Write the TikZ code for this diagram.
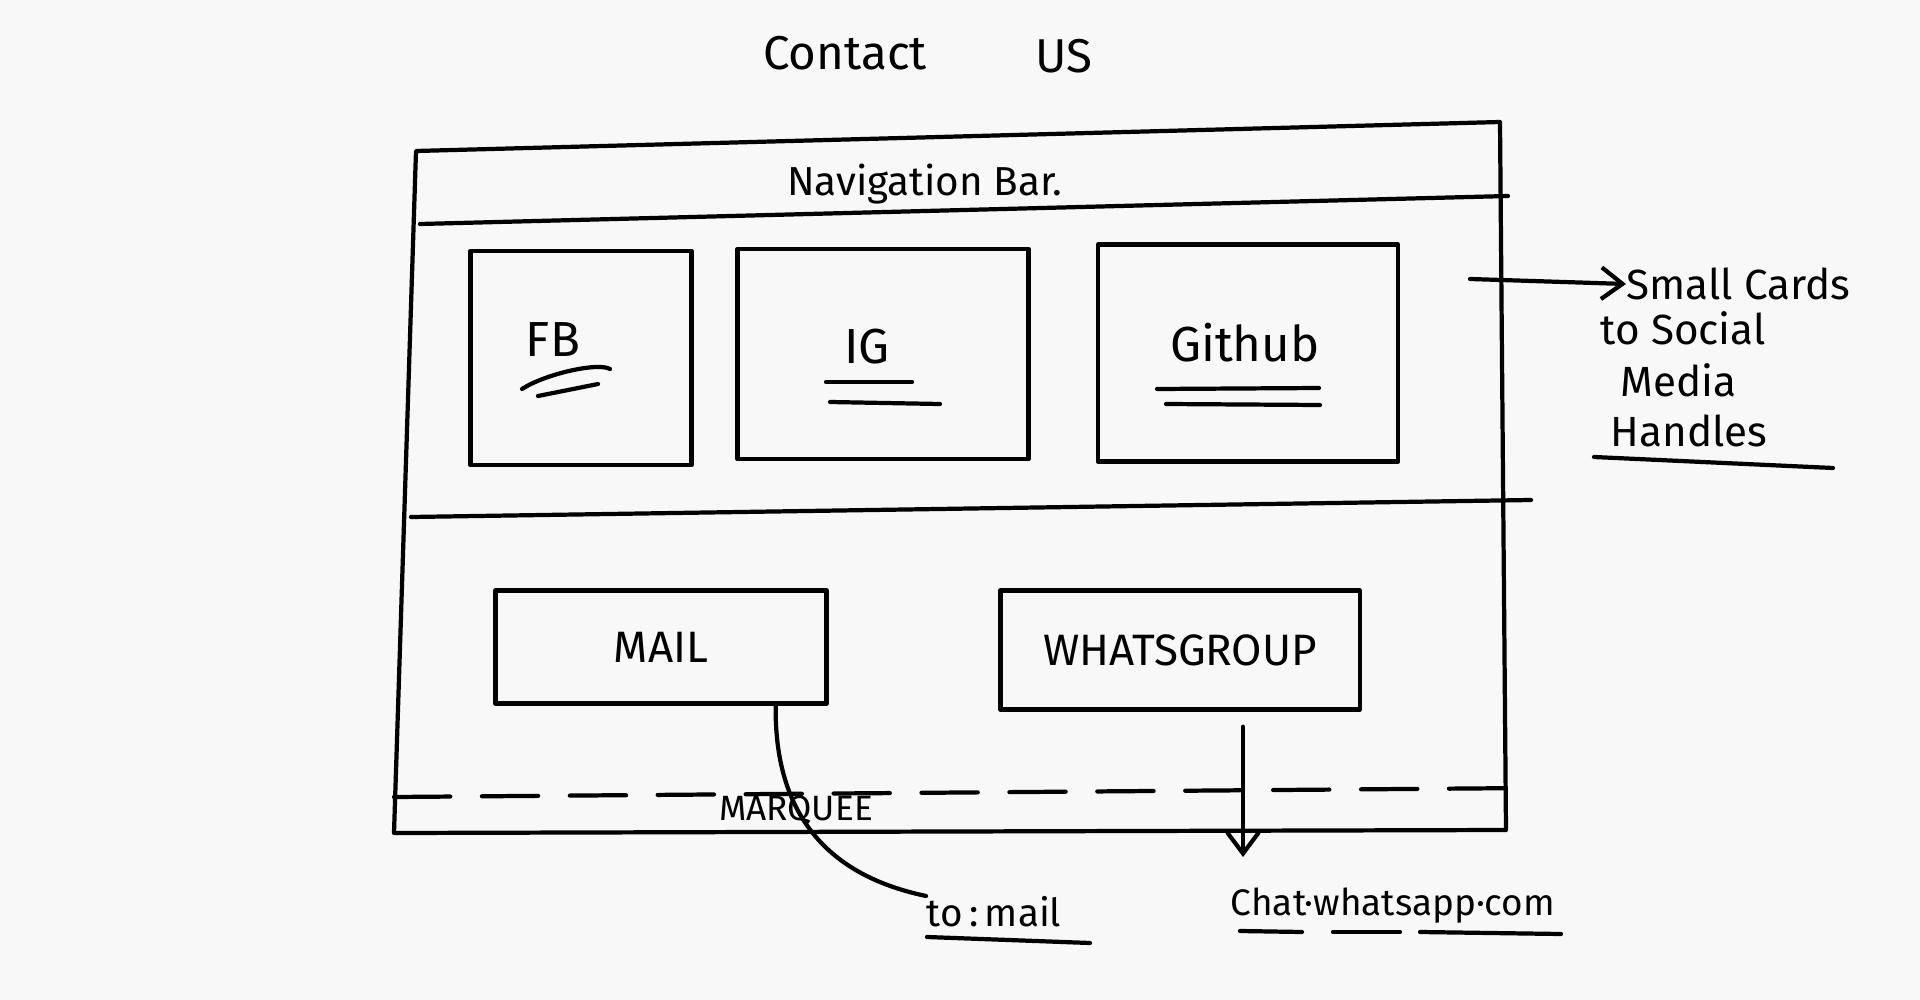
\documentclass[tikz,border=0pt]{standalone}
\usepackage{fontspec}
\setmainfont{Fira Sans}
\usetikzlibrary{arrows.meta}
\definecolor{paper}{RGB}{248,248,248}

\begin{document}
\begin{tikzpicture}[x=0.01cm,y=-0.01cm,
	sketch/.style={black,line width=1.2pt,line cap=round,line join=round},
	card/.style={sketch,draw,rectangle,inner sep=0pt},
	hand/.style={inner sep=0pt,font=\fontsize{#1}{#1}\selectfont},
	hand/.default=12,
	marquee/.style={sketch,dash pattern=on 16pt off 9pt}]
				\fill [paper] (0,0) rectangle (1920,1000);
				\useasboundingbox (0,0) rectangle (1920,1000);
				\node [hand=13.5] (contact) at (845,53) {Contact};
				\node [hand=13.5] (us) at (1064,56) {US};
				\draw [sketch] (416,151) -- (1500,122) -- (1506,830) -- (394,833) -- cycle;
				\draw [sketch] (420,224) -- (1508,196);
				\node [hand=11.5] (navbar) at (925,184) {Navigation Bar.};
				\draw [sketch] (411,517) -- (1531,500);
				\node [card,minimum width=2.21cm,minimum height=2.14cm] (fbcard) at (581,358) {};
				\node [card,minimum width=2.91cm,minimum height=2.10cm] (igcard) at (883,354) {};
				\node [card,minimum width=3.00cm,minimum height=2.17cm] (ghcard) at (1248,353) {};
				\node [hand=14] (fb) at (553,340) {FB};
				\node [hand=14] (ig) at (867,347) {IG};
				\node [hand=14] (gh) at (1245,343) {Github};
				\draw [sketch] (522,389) .. controls (545,374) and (598,362) .. (610,369);
				\draw [sketch] (538,396) -- (598,384);
				\draw [sketch] (826,382) -- (912,382);
				\draw [sketch] (830,402) -- (940,404);
				\draw [sketch] (1157,389) -- (1319,388);
				\draw [sketch] (1166,404) -- (1320,405);
				\coordinate (cardtail) at (1470,279);
				\node [hand=12,anchor=west] (cards) at (1626,284) {Small Cards};
				\node [hand=12,anchor=west] (social) at (1600,328) {to Social};
				\node [hand=12,anchor=west] (media) at (1620,380) {Media};
				\node [hand=12,anchor=west] (handles) at (1610,431) {Handles};
				\draw [sketch,-{Straight Barb[length=6pt,width=9pt]}] (cardtail) -- (cards.west);
				\draw [sketch] (1594,457) -- (1833,468);
				\node [card,minimum width=3.31cm,minimum height=1.13cm,hand=12.5] (mail) at (661,647) {MAIL};
				\node [card,minimum width=3.59cm,minimum height=1.19cm,hand=12.5] (whats) at (1180,650) {WHATSGROUP};
				\draw [marquee] (394,797) -- (1531,788);
				\node [hand=10] (marqueelbl) at (796,810) {MARQUEE};
				\node [hand=11] (tomail) at (994,912) {to\,:\,mail};
				\draw [sketch] ([xshift=-0.53cm]mail.south east) .. controls (774,835) and (850,880) .. (tomail.north west);
				\draw [sketch] (927,937) -- (1090,943);
				\node [hand=10.5] (chat) at (1393,906) {Chat·whatsapp·com};
				\coordinate (chattip) at (1243,857);
				\draw [sketch,-{Straight Barb[length=6pt,width=9pt]}] ([shift={(63,15)}]whats.south) -- (chattip);
				\draw [sketch] (1240,931) -- (1302,932);
				\draw [sketch] (1333,932) -- (1400,932);
				\draw [sketch] (1420,932) -- (1561,934);
\end{tikzpicture}
\end{document}
